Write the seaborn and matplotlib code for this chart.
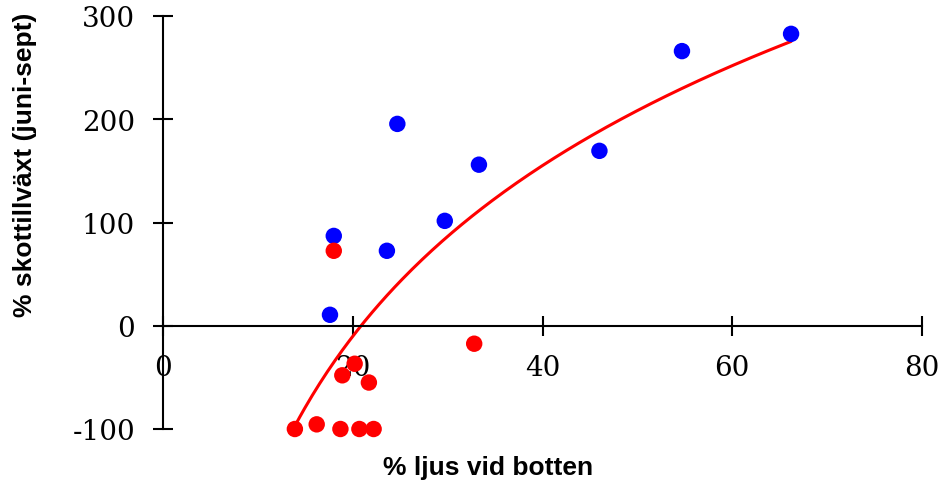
import numpy as np
import pandas as pd
import matplotlib
matplotlib.use("Agg")
import matplotlib.pyplot as plt
import seaborn as sns

# Data
blue_x = [17.6, 18.0, 23.6, 24.7, 29.7, 33.3, 46.0, 54.7, 66.2]
blue_y = [10.6, 87.0, 72.6, 195.5, 101.6, 156.0, 169.4, 266.0, 282.7]
red_x = [18.0, 32.8, 20.2, 18.9, 21.7, 13.9, 16.2, 18.7, 20.7, 22.2]
red_y = [72.6, -17.4, -36.8, -48.0, -55.0, -100.0, -95.5, -100.0, -100.0, -100.0]

x_ticks = [0, 20, 40, 60, 80]
y_ticks = [-100, 0, 100, 200, 300]
x_label = "% ljus vid botten"
y_label = "% skottillväxt (juni-sept)"

df = pd.DataFrame({
    "x": blue_x + red_x,
    "y": blue_y + red_y,
    "grp": ["blue"] * len(blue_x) + ["red"] * len(red_x),
})

sns.set_style("white")
plt.rcParams["font.family"] = ["DejaVu Sans"]
plt.rcParams["text.color"] = "black"

fig = plt.figure(figsize=(9.44, 4.85), dpi=100)
W, H = 944, 485
ax = fig.add_axes([163 / W, 1 - 430 / H, (922 - 163) / W, (430 - 17) / H])

sns.scatterplot(data=df, x="x", y="y", hue="grp",
                palette={"blue": "#0000FF", "red": "#FF0000"},
                s=140, edgecolor="none", legend=False, ax=ax, zorder=3,
                clip_on=False)

# logarithmic trendline fitted on all points
a, b = np.polyfit(np.log(df["x"]), df["y"], 1)
xs = np.linspace(df["x"].min(), df["x"].max(), 200)
ax.plot(xs, a * np.log(xs) + b, color="#FF0000", lw=2.2, zorder=2)

ax.set_xlim(0, 80)
ax.set_ylim(-100, 300)
ax.spines["left"].set_position(("data", 0))
ax.spines["bottom"].set_position(("data", 0))
ax.spines["top"].set_visible(False)
ax.spines["right"].set_visible(False)
for s in ("left", "bottom"):
    ax.spines[s].set_linewidth(1.5)
    ax.spines[s].set_color("black")

ax.set_xticks(x_ticks)
ax.set_yticks(y_ticks)
ax.set_xticklabels([str(v) for v in x_ticks])
ax.set_yticklabels([str(v) for v in y_ticks])
ax.tick_params(axis="both", direction="inout", length=14, width=1.5,
               colors="black", labelsize=20, bottom=True, left=True,
               labelcolor="black")
ax.tick_params(axis="x", pad=13)
ax.tick_params(axis="y", pad=13)
for lab in ax.get_xticklabels() + ax.get_yticklabels():
    lab.set_family(["DejaVu Serif"])
ax.set_xlabel("")
ax.set_ylabel("")

fig.text(488 / W, 1 - 468 / H, x_label, ha="center", va="center",
         fontsize=19, fontweight="bold", family=["Liberation Sans"],
         color="black")
fig.text(25 / W, 1 - 165 / H, y_label, ha="center", va="center",
         rotation=90, fontsize=19, fontweight="bold", family=["Liberation Sans"],
         color="black")

fig.savefig("out.png", dpi=100)
